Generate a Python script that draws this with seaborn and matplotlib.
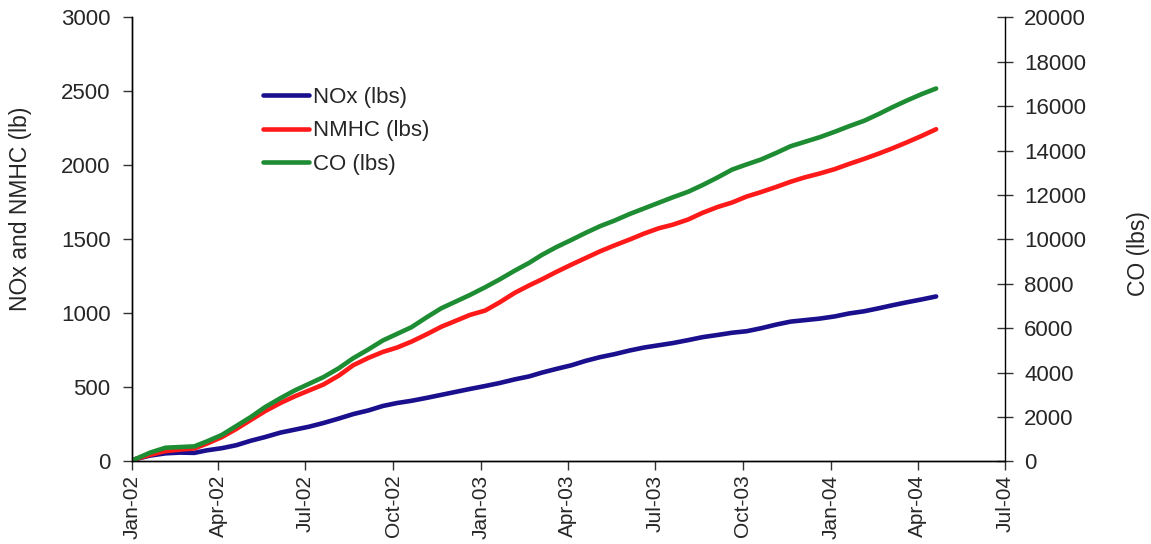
import matplotlib
matplotlib.use("Agg")
import matplotlib.pyplot as plt
import matplotlib.dates as mdates
import pandas as pd
import seaborn as sns
from matplotlib.lines import Line2D

# Cumulative emissions, sampled roughly twice a month
dates = [
    "2002-01-04", "2002-01-20", "2002-02-05", "2002-02-20", "2002-03-07", "2002-03-20",
    "2002-04-05", "2002-04-20", "2002-05-05", "2002-05-20", "2002-06-05", "2002-06-20",
    "2002-07-05", "2002-07-20", "2002-08-05", "2002-08-20", "2002-09-05", "2002-09-20",
    "2002-10-05", "2002-10-20", "2002-11-05", "2002-11-20", "2002-12-05", "2002-12-20",
    "2003-01-05", "2003-01-20", "2003-02-05", "2003-02-20", "2003-03-05", "2003-03-20",
    "2003-04-05", "2003-04-20", "2003-05-05", "2003-05-20", "2003-06-05", "2003-06-20",
    "2003-07-05", "2003-07-20", "2003-08-05", "2003-08-20", "2003-09-05", "2003-09-20",
    "2003-10-05", "2003-10-20", "2003-11-05", "2003-11-20", "2003-12-05", "2003-12-20",
    "2004-01-05", "2004-01-20", "2004-02-05", "2004-02-20", "2004-03-05", "2004-03-20",
    "2004-04-05", "2004-04-20",
]
nox = [
    15, 40, 55, 60, 58, 75,
    90, 110, 140, 165, 195, 215,
    235, 260, 290, 320, 345, 375,
    395, 410, 430, 450, 470, 490,
    510, 530, 555, 575, 600, 625,
    650, 680, 705, 725, 750, 770,
    785, 800, 820, 840, 855, 870,
    880, 900, 925, 945, 955, 965,
    980, 1000, 1015, 1035, 1055, 1075,
    1095, 1115,
]
nmhc = [
    15, 45, 70, 80, 88, 120,
    165, 220, 280, 340, 395, 440,
    480, 520, 580, 650, 700, 740,
    770, 810, 860, 910, 950, 990,
    1020, 1075, 1140, 1190, 1230, 1280,
    1330, 1375, 1420, 1460, 1500, 1540,
    1575, 1600, 1635, 1680, 1720, 1750,
    1790, 1820, 1855, 1890, 1920, 1945,
    1975, 2010, 2045, 2080, 2115, 2155,
    2200, 2245,
]
co = [
    100, 400, 620, 650, 680, 900,
    1200, 1600, 2000, 2450, 2850, 3200,
    3500, 3800, 4200, 4650, 5050, 5450,
    5750, 6050, 6500, 6900, 7200, 7500,
    7850, 8200, 8600, 8950, 9300, 9650,
    9980, 10300, 10600, 10850, 11150, 11400,
    11650, 11900, 12150, 12450, 12800, 13150,
    13380, 13600, 13900, 14200, 14400, 14600,
    14850, 15100, 15350, 15650, 15950, 16250,
    16550, 16800,
]

df = pd.DataFrame({"date": pd.to_datetime(dates), "NOx": nox, "NMHC": nmhc, "CO": co})

sns.set_style("ticks")
plt.rcParams["font.family"] = ["Liberation Sans", "DejaVu Sans"]

c_nox = "#1a0f8c"
c_nmhc = "#ff1a1a"
c_co = "#1e8c32"
lw = 3.3

fig = plt.figure(figsize=(11.51, 5.44), dpi=100)
ax = fig.add_axes([0.1147, 0.1517, 0.7585, 0.8162])
ax2 = ax.twinx()

sns.lineplot(data=df, x="date", y="NOx", ax=ax, color=c_nox, linewidth=lw)
sns.lineplot(data=df, x="date", y="NMHC", ax=ax, color=c_nmhc, linewidth=lw)
sns.lineplot(data=df, x="date", y="CO", ax=ax2, color=c_co, linewidth=lw)

ax.set_xlim(pd.Timestamp("2002-01-01"), pd.Timestamp("2004-07-01"))
ax.set_ylim(0, 3000)
ax2.set_ylim(0, 20000)
ax.set_yticks(range(0, 3001, 500))
ax2.set_yticks(range(0, 20001, 2000))

ax.xaxis.set_major_locator(mdates.MonthLocator(bymonth=[1, 4, 7, 10]))
ax.xaxis.set_major_formatter(mdates.DateFormatter("%b-%y"))
for lab in ax.get_xticklabels():
    lab.set_rotation(90)

fs = 16
tick_color = "#333333"
ax.tick_params(axis="y", labelsize=fs, direction="out", length=6.5, width=1.0,
               color=tick_color, pad=9)
ax.tick_params(axis="x", labelsize=15, direction="out", length=6.5, width=1.0,
               color=tick_color, pad=3)
ax2.tick_params(axis="y", labelsize=fs, direction="inout", length=11.5, width=1.0,
                color=tick_color, pad=8)

ax.set_xlabel("")
ax.set_ylabel("NOx and NMHC (lb)", fontsize=16.5)
ax2.set_ylabel("CO (lbs)", fontsize=16.5)
ax.yaxis.set_label_coords(-0.115, 0.57)
ax2.yaxis.set_label_coords(1.140, 0.468)

for a in (ax, ax2):
    a.spines["top"].set_visible(False)
    for s in ("left", "right", "bottom"):
        a.spines[s].set_color("black")
        a.spines[s].set_linewidth(1.0)
ax.spines["right"].set_visible(False)

handles = [
    Line2D([], [], color=c_nox, linewidth=lw),
    Line2D([], [], color=c_nmhc, linewidth=lw),
    Line2D([], [], color=c_co, linewidth=lw),
]
ax.legend(handles, ["NOx (lbs)", "NMHC (lbs)", "CO (lbs)"], loc="upper left",
          bbox_to_anchor=(0.127, 0.888), frameon=False, fontsize=fs,
          handlelength=2.07, handletextpad=0.18, labelspacing=0.55, borderpad=0.4)

fig.savefig("out.png", dpi=100)
